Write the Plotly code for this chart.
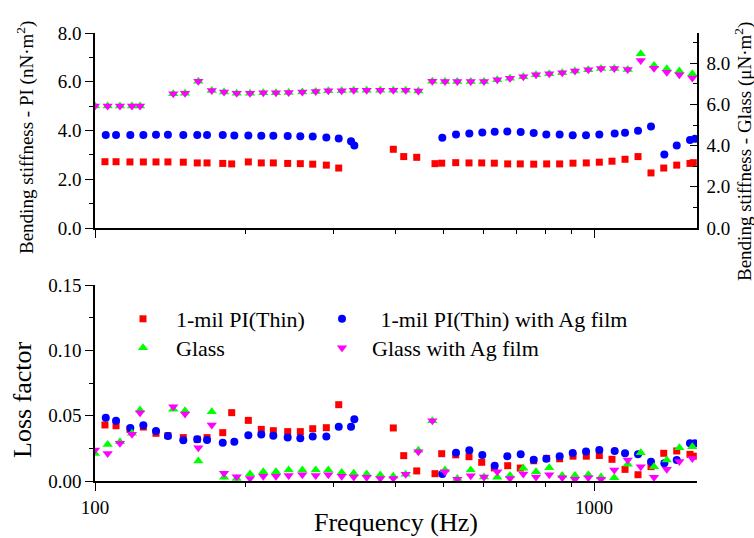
import plotly.graph_objects as go

# ---------------- data ----------------
freq_pi = [104.7, 110.2, 117.5, 125.0, 132.5, 140.0, 150.3, 160.3, 167.7, 180.3,
           187.9, 202.9, 215.4, 227.7, 243.3, 257.9, 273.1, 290.8, 307.9, 396.1,
           415.6, 441.3, 480.1, 495.2, 528.3, 561.7, 595.6, 631.3, 671.5, 711.7,
           757.1, 803.8, 853.4, 907.6, 965.1, 1024.8, 1086.6, 1153.9, 1225.2, 1300.8,
           1379.5, 1464.8, 1557.2, 1581.2]
stiff_pi = [2.72, 2.72, 2.71, 2.71, 2.71, 2.71, 2.70, 2.67, 2.67, 2.65,
            2.63, 2.71, 2.67, 2.67, 2.65, 2.64, 2.62, 2.58, 2.46, 3.23,
            2.93, 2.90, 2.64, 2.66, 2.68, 2.67, 2.67, 2.66, 2.63, 2.63,
            2.62, 2.63, 2.63, 2.66, 2.67, 2.70, 2.74, 2.82, 2.93, 2.26,
            2.46, 2.58, 2.65, 2.68]
loss_pi = [0.0429, 0.0423, 0.0395, 0.0413, 0.0365, 0.0347, 0.0332, 0.0319, 0.0332, 0.0370,
           0.0523, 0.0464, 0.0395, 0.0385, 0.0378, 0.0378, 0.0400, 0.0408, 0.0584, 0.0406,
           0.0194, 0.0077, 0.0056, 0.0209, 0.0200, 0.0186, 0.0143, 0.0100, 0.0117, 0.0099,
           0.0155, 0.0173, 0.0170, 0.0190, 0.0190, 0.0195, 0.0166, 0.0089, 0.0048, 0.0110,
           0.0212, 0.0230, 0.0204, 0.0190]

freq_pi_ag = [105.1, 110.2, 117.7, 125.0, 132.5, 140.0, 150.3, 160.3, 167.7, 180.3,
              190.2, 202.9, 215.4, 227.7, 243.3, 257.9, 273.1, 290.8, 307.9, 325.9,
              330.9, 496.6, 529.0, 562.5, 597.3, 632.4, 670.3, 713.0, 757.1, 802.5,
              853.4, 906.4, 963.8, 1024.8, 1100.1, 1153.9, 1225.2, 1300.8, 1383.4, 1464.8,
              1557.2, 1593.7]
stiff_pi_ag = [3.82, 3.82, 3.82, 3.82, 3.83, 3.83, 3.82, 3.82, 3.82, 3.82,
               3.80, 3.80, 3.79, 3.79, 3.77, 3.76, 3.75, 3.71, 3.67, 3.56,
               3.38, 3.70, 3.84, 3.88, 3.92, 3.95, 3.96, 3.94, 3.90, 3.84,
               3.84, 3.81, 3.81, 3.84, 3.88, 3.91, 3.99, 4.16, 3.02, 3.38,
               3.61, 3.66]
loss_pi_ag = [0.0485, 0.0462, 0.0406, 0.0426, 0.0383, 0.0344, 0.0311, 0.0319, 0.0314, 0.0293,
              0.0301, 0.0350, 0.0355, 0.0347, 0.0332, 0.0327, 0.0340, 0.0340, 0.0416, 0.0416,
              0.0472, 0.0054, 0.0217, 0.0235, 0.0199, 0.0117, 0.0190, 0.0204, 0.0163, 0.0170,
              0.0189, 0.0214, 0.0225, 0.0237, 0.0230, 0.0212, 0.0204, 0.0148, 0.0135, 0.0160,
              0.0288, 0.0288]

freq_glass = [100.0, 106.0, 112.2, 118.6, 123.1, 143.5, 151.5, 161.1, 171.4, 181.4,
              192.3, 204.5, 217.4, 230.5, 244.4, 260.3, 276.9, 293.5, 312.2, 330.0,
              350.3, 373.0, 396.1, 419.4, 444.6, 474.3, 502.8, 532.2, 566.2, 601.9,
              640.0, 678.7, 721.7, 765.2, 813.5, 863.7, 915.8, 974.1, 1032.8, 1098.1,
              1168.4, 1240.6, 1319.0, 1399.1, 1482.6, 1574.1]
stiff_glass = [5.92, 5.92, 5.92, 5.92, 5.92, 6.52, 6.55, 7.13, 6.68, 6.60,
               6.55, 6.55, 6.57, 6.57, 6.58, 6.61, 6.63, 6.66, 6.66, 6.69,
               6.69, 6.69, 6.69, 6.69, 6.65, 7.13, 7.12, 7.12, 7.12, 7.12,
               7.20, 7.27, 7.34, 7.44, 7.49, 7.54, 7.63, 7.68, 7.75, 7.75,
               7.70, 8.46, 7.89, 7.73, 7.62, 7.49]
stiff_glass_ag = [5.92, 5.92, 5.92, 5.92, 5.92, 6.52, 6.55, 7.13, 6.68, 6.60,
                  6.55, 6.55, 6.57, 6.57, 6.58, 6.61, 6.63, 6.66, 6.66, 6.69,
                  6.69, 6.69, 6.69, 6.69, 6.65, 7.13, 7.12, 7.12, 7.12, 7.12,
                  7.20, 7.27, 7.34, 7.44, 7.49, 7.54, 7.63, 7.68, 7.75, 7.75,
                  7.70, 8.13, 7.76, 7.57, 7.44, 7.28]
loss_glass = [0.0210, 0.0280, 0.0300, 0.0365, 0.0543, 0.0550, 0.0538, 0.0153, 0.0530, 0.0028,
              0.0020, 0.0054, 0.0071, 0.0071, 0.0084, 0.0084, 0.0084, 0.0084, 0.0066, 0.0059,
              0.0054, 0.0046, 0.0036, 0.0051, 0.0235, 0.0461, 0.0084, 0.0020, 0.0084, 0.0030,
              0.0028, 0.0043, 0.0097, 0.0071, 0.0102, 0.0043, 0.0043, 0.0048, 0.0030, 0.0025,
              0.0128, 0.0217, 0.0110, 0.0160, 0.0255, 0.0263]
loss_glass_ag = [0.0237, 0.0210, 0.0288, 0.0357, 0.0523, 0.0569, 0.0513, 0.0255, 0.0429, 0.0059,
                 0.0033, 0.0020, 0.0036, 0.0036, 0.0043, 0.0048, 0.0043, 0.0048, 0.0036, 0.0031,
                 0.0028, 0.0020, 0.0020, 0.0051, 0.0224, 0.0461, 0.0070, 0.0013, 0.0041, 0.0030,
                 0.0070, 0.0020, 0.0054, 0.0030, 0.0048, 0.0025, 0.0013, 0.0025, 0.0013, 0.0084,
                 0.0160, 0.0110, 0.0028, 0.0089, 0.0150, 0.0173]

names = ["1-mil PI(Thin)", " 1-mil PI(Thin) with Ag film", "Glass", "Glass with Ag film"]
x_major = [100, 1000]
x_major_text = ["100", "1000"]
x_minor = [200, 300, 400, 500, 600, 700, 800, 900]

# ---------------- style ----------------
FONT = "Liberation Serif, Times New Roman, serif"
RED, BLUE, GREEN, MAG = "#FF0000", "#0000FF", "#00FF00", "#FF00FF"
XR = [2, 3.2064]

fig = go.Figure()

def mk(sym, color, size):
    return dict(symbol=sym, color=color, size=size, line=dict(width=0))

# top panel
fig.add_trace(go.Scatter(x=freq_pi, y=stiff_pi, mode="markers", marker=mk("square", RED, 7),
                         xaxis="x", yaxis="y", showlegend=False))
fig.add_trace(go.Scatter(x=freq_pi_ag, y=stiff_pi_ag, mode="markers", marker=mk("circle", BLUE, 8),
                         xaxis="x", yaxis="y", showlegend=False))
fig.add_trace(go.Scatter(x=freq_glass, y=stiff_glass, mode="markers", marker=mk("triangle-up", GREEN, 9),
                         xaxis="x", yaxis="y2", showlegend=False))
fig.add_trace(go.Scatter(x=freq_glass, y=stiff_glass_ag, mode="markers", marker=mk("triangle-down", MAG, 9),
                         xaxis="x", yaxis="y2", showlegend=False))
# bottom panel
fig.add_trace(go.Scatter(x=freq_pi, y=loss_pi, mode="markers", marker=mk("square", RED, 7),
                         xaxis="x2", yaxis="y3", name=names[0], legend="legend"))
fig.add_trace(go.Scatter(x=freq_pi_ag, y=loss_pi_ag, mode="markers", marker=mk("circle", BLUE, 8),
                         xaxis="x2", yaxis="y3", name=names[1], legend="legend2"))
fig.add_trace(go.Scatter(x=freq_glass, y=loss_glass, mode="markers", marker=mk("triangle-up", GREEN, 9),
                         xaxis="x2", yaxis="y3", name=names[2], legend="legend3"))
fig.add_trace(go.Scatter(x=freq_glass, y=loss_glass_ag, mode="markers", marker=mk("triangle-down", MAG, 9),
                         xaxis="x2", yaxis="y3", name=names[3], legend="legend4"))

TOPDOM = [0.5647, 1.0]
BOTDOM = [0.0, 0.4375]
tickfont = dict(family=FONT, size=19, color="black")

def xax(anchor, side, ticks, labels, overlay=None, length=8):
    d = dict(type="log", range=XR, domain=[0, 1], anchor=anchor, side=side,
             showline=True, linecolor="black", linewidth=1.5, mirror=False,
             showgrid=False, zeroline=False, ticks=ticks, ticklen=length, tickwidth=1.2,
             tickcolor="black", tickvals=x_major, ticktext=x_major_text,
             showticklabels=labels, tickfont=tickfont,
             minor=dict(tickvals=x_minor, ticks=ticks, ticklen=4, tickwidth=1.2,
                        tickcolor="black", showgrid=False))
    if overlay:
        d["overlaying"] = overlay
    return d

def leg(marker_x, row_y, gap):
    w = 2 * (gap - 5)
    left = marker_x - (5 + w / 2)
    return dict(x=(left - 95) / 602, y=(481 - row_y) / 448, xanchor="left", yanchor="middle",
                bgcolor="rgba(0,0,0,0)", borderwidth=0, tracegroupgap=0, itemwidth=w,
                font=dict(family=FONT, size=22, color="black"))

fig.update_layout(
    width=754, height=538,
    margin=dict(l=95, r=57, t=33, b=57),
    paper_bgcolor="white", plot_bgcolor="white",
    font=dict(family=FONT, color="black"),
    xaxis=xax("y", "bottom", "outside", False),
    xaxis3=xax("y", "top", "inside", False, overlay="x"),
    xaxis2=xax("y3", "bottom", "outside", True),
    xaxis4=xax("y3", "top", "inside", False, overlay="x2"),
    yaxis=dict(domain=TOPDOM, range=[0, 8], anchor="x", side="left",
               showline=True, linecolor="black", linewidth=1.5, showgrid=False, zeroline=False,
               ticks="outside", ticklen=8, tickwidth=1.2, tickcolor="black",
               tickvals=[0, 2, 4, 6, 8], tickformat=".1f", tickfont=tickfont,
               minor=dict(dtick=1, ticks="outside", ticklen=4, tickwidth=1.2, tickcolor="black", showgrid=False)),
    yaxis2=dict(overlaying="y", range=[0, 9.47], anchor="x", side="right",
                showline=True, linecolor="black", linewidth=1.5, showgrid=False, zeroline=False,
                ticks="inside", ticklen=7, tickwidth=1.2, tickcolor="black",
                tickvals=[0, 2, 4, 6, 8], tickformat=".1f", tickfont=tickfont, ticklabelstandoff=4,
                minor=dict(dtick=1, ticks="inside", ticklen=4, tickwidth=1.2, tickcolor="black", showgrid=False)),
    yaxis3=dict(domain=BOTDOM, range=[0, 0.15], anchor="x2", side="left",
                showline=True, linecolor="black", linewidth=1.5, showgrid=False, zeroline=False,
                ticks="outside", ticklen=8, tickwidth=1.2, tickcolor="black",
                tickvals=[0, 0.05, 0.10, 0.15], tickformat=".2f", tickfont=tickfont,
                minor=dict(dtick=0.025, ticks="outside", ticklen=4, tickwidth=1.2, tickcolor="black", showgrid=False)),
    yaxis4=dict(overlaying="y3", range=[0, 0.15], anchor="x2", side="right",
                showline=True, linecolor="black", linewidth=1.5, showgrid=False, zeroline=False,
                ticks="inside", ticklen=6, tickwidth=1.2, tickcolor="black",
                dtick=0.025, showticklabels=False),
    legend=leg(143, 319, 33),
    legend2=leg(342, 319, 33),
    legend3=leg(143, 348, 33),
    legend4=leg(342, 348, 30),
    annotations=[
        dict(text="Frequency (Hz)", x=0.5, y=(481 - 522) / 448, xref="paper", yref="paper",
             showarrow=False, xanchor="center", yanchor="middle",
             font=dict(family=FONT, size=26, color="black")),
        dict(text="Loss factor", x=(22 - 95) / 602, y=(481 - 400) / 448, xref="paper", yref="paper",
             showarrow=False, textangle=-90, xanchor="center", yanchor="middle",
             font=dict(family=FONT, size=26, color="black")),
        dict(text="Bending stiffness - PI (nN·m<sup>2</sup>)", x=(25 - 95) / 602, y=(481 - 138) / 448,
             xref="paper", yref="paper", showarrow=False, textangle=-90,
             xanchor="center", yanchor="middle", font=dict(family=FONT, size=19, color="black")),
        dict(text="Bending stiffness - Glass (μN·m<sup>2</sup>)", x=(743 - 95) / 602, y=(481 - 152) / 448,
             xref="paper", yref="paper", showarrow=False, textangle=-90,
             xanchor="center", yanchor="middle", font=dict(family=FONT, size=19, color="black")),
    ],
)

fig.write_html("out.html", config={"displayModeBar": False},
               post_script="document.body.style.margin='0px';document.body.style.padding='0px';"
                           "document.documentElement.style.overflow='hidden';")
